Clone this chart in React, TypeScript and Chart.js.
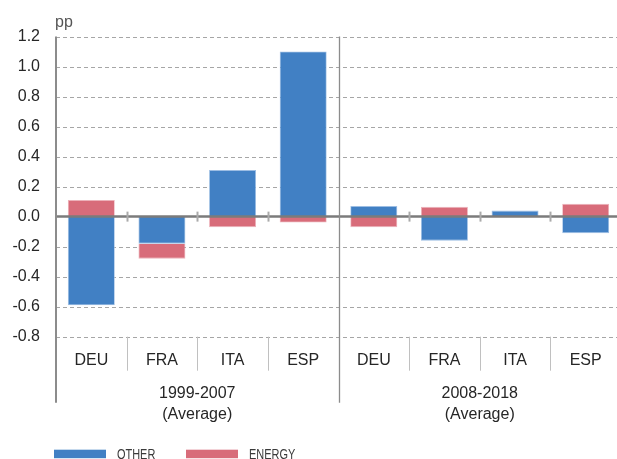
import React, { useEffect, useRef } from "react";
import { Chart, registerables } from "chart.js";

Chart.register(...registerables);

const categories = ["DEU", "FRA", "ITA", "ESP", "DEU", "FRA", "ITA", "ESP"];
const groupLabels = [
  ["1999-2007", "(Average)"],
  ["2008-2018", "(Average)"],
];
const otherValues = [-0.59, -0.18, 0.31, 1.1, 0.07, -0.16, 0.04, -0.11];
const energyValues = [0.11, -0.1, -0.07, -0.04, -0.07, 0.065, 0.0, 0.085];
const seriesNames = ["OTHER", "ENERGY"];
const seriesColors = ["#4180c4", "#d86c7a"];
const yMin = -0.8;
const yMax = 1.2;
const yStep = 0.2;
const unitLabel = "pp";

const FONT = "'Liberation Sans', Arial, Helvetica, sans-serif";

const decoPlugin = {
  id: "deco",
  beforeDatasetsDraw(chart: any) {
    const { ctx, chartArea, scales } = chart;
    const y = scales.y;
    ctx.save();
    ctx.strokeStyle = "#a6a6a6";
    ctx.lineWidth = 1;
    ctx.setLineDash([4, 3]);
    y.ticks.forEach((t: any) => {
      if (Math.abs(t.value) < 1e-9) return;
      const py = Math.round(y.getPixelForValue(t.value)) + 0.5;
      ctx.beginPath();
      ctx.moveTo(chartArea.left, py);
      ctx.lineTo(chartArea.right, py);
      ctx.stroke();
    });
    ctx.restore();
  },
  afterDatasetsDraw(chart: any) {
    const { ctx, chartArea, scales } = chart;
    const x = scales.x;
    const y = scales.y;
    const { left, right, top, bottom } = chartArea;
    const n = categories.length;
    const groupBottom = bottom + 66;
    const zeroY = y.getPixelForValue(0);
    ctx.save();
    ctx.setLineDash([]);

    // zero line
    ctx.strokeStyle = "#7b7b7b";
    ctx.lineWidth = 2.5;
    ctx.beginPath();
    ctx.moveTo(left, zeroY);
    ctx.lineTo(right, zeroY);
    ctx.stroke();

    // category boundaries
    for (let i = 1; i < n; i++) {
      const bx = Math.round((x.getPixelForValue(i - 1) + x.getPixelForValue(i)) / 2) + 0.5;
      if (i === n / 2) {
        ctx.strokeStyle = "#8c8c8c";
        ctx.lineWidth = 1.3;
        ctx.beginPath();
        ctx.moveTo(bx, top);
        ctx.lineTo(bx, groupBottom);
        ctx.stroke();
      } else {
        ctx.strokeStyle = "#aaaaaa";
        ctx.lineWidth = 2;
        ctx.beginPath();
        ctx.moveTo(bx, zeroY - 5);
        ctx.lineTo(bx, zeroY + 5);
        ctx.stroke();
        ctx.strokeStyle = "#c0c0c0";
        ctx.lineWidth = 1;
        ctx.beginPath();
        ctx.moveTo(bx, bottom);
        ctx.lineTo(bx, bottom + 34);
        ctx.stroke();
      }
    }

    // left axis line
    ctx.strokeStyle = "#8c8c8c";
    ctx.lineWidth = 2;
    ctx.beginPath();
    ctx.moveTo(left, top);
    ctx.lineTo(left, groupBottom);
    ctx.stroke();

    // group labels
    ctx.fillStyle = "#262626";
    ctx.font = `16px ${FONT}`;
    ctx.textAlign = "center";
    ctx.textBaseline = "middle";
    const per = n / groupLabels.length;
    groupLabels.forEach((lines, g) => {
      const cx = (x.getPixelForValue(g * per) + x.getPixelForValue(g * per + per - 1)) / 2;
      lines.forEach((ln, k) => {
        ctx.fillText(ln, cx, bottom + 56.5 + k * 21.5);
      });
    });

    // unit label
    ctx.font = `16px ${FONT}`;
    ctx.fillStyle = "#555";
    ctx.textAlign = "left";
    ctx.fillText(unitLabel, left - 1, top - 14);

    // legend
    const legendY = bottom + 117;
    let lx = 54;
    ctx.font = `15px ${FONT}`;
    seriesNames.forEach((name, i) => {
      ctx.fillStyle = seriesColors[i];
      ctx.fillRect(lx, legendY - 4, 52, 8.5);
      ctx.fillStyle = "#3a3a3a";
      ctx.textAlign = "left";
      ctx.save();
      ctx.translate(lx + 63, legendY + 1);
      ctx.scale(0.73, 1);
      ctx.fillText(name, 0, 0);
      ctx.restore();
      lx += 132;
    });
    ctx.restore();
  },
};

export default function App() {
  const ref = useRef<HTMLCanvasElement | null>(null);
  useEffect(() => {
    if (!ref.current) return;
    const chart = new Chart(ref.current, {
      type: "bar",
      data: {
        labels: categories,
        datasets: [
          {
            label: seriesNames[0],
            data: otherValues,
            backgroundColor: seriesColors[0],
            borderColor: "#9cbde3",
            borderWidth: 0.8,
            stack: "s",
          },
          {
            label: seriesNames[1],
            data: energyValues,
            backgroundColor: seriesColors[1],
            borderColor: "#ecb1b9",
            borderWidth: 0.8,
            stack: "s",
          },
        ],
      },
      options: {
        responsive: false,
        animation: false,
        layout: { padding: { top: 36.5, bottom: 82.3, left: 0, right: 0 } },
        plugins: { legend: { display: false }, tooltip: { enabled: false } },
        datasets: { bar: { categoryPercentage: 1, barPercentage: 0.665 } },
        scales: {
          x: {
            stacked: true,
            offset: true,
            grid: { display: false, drawTicks: false },
            border: { display: false },
            ticks: { color: "#262626", font: { size: 16, family: FONT }, padding: 14 },
            afterFit: (s: any) => {
              s.height = 40;
            },
          },
          y: {
            stacked: true,
            min: yMin,
            max: yMax,
            grid: { display: false, drawTicks: false },
            border: { display: false },
            ticks: {
              stepSize: yStep,
              color: "#262626",
              font: { size: 16, family: FONT },
              padding: 16,
              callback: (v: any) => Number(v).toFixed(1),
            },
            afterFit: (s: any) => {
              s.width = 56;
            },
          },
        },
      },
      plugins: [decoPlugin],
    } as any);
    return () => chart.destroy();
  }, []);
  return (
    <div style={{ position: "fixed", left: 0, top: 0, width: 617, height: 459, overflow: "hidden", background: "#fff" }}>
      <canvas ref={ref} width={621} height={459} style={{ width: 621, height: 459, display: "block" }} />
    </div>
  );
}
